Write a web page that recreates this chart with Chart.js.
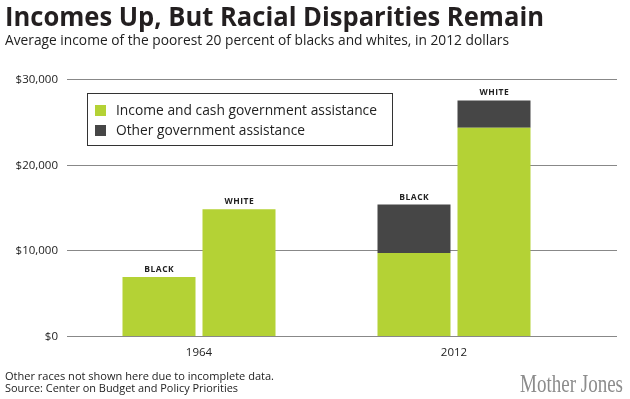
<!DOCTYPE html>
<html>
<head>
<meta charset="utf-8">
<script src="https://cdn.jsdelivr.net/npm/chart.js@4.4.1/dist/chart.umd.min.js"></script>
<style>
    html, body { margin: 0; padding: 0; background: #fff; }
    #wrap { position: relative; width: 630px; height: 399px; overflow: hidden; font-family: "Open Sans", sans-serif; color: #222; }
    #chart { position: absolute; left: 0; top: 0; }
    .txt { position: absolute; white-space: nowrap; transform-origin: 0 0; }
    .title { left: 5px; top: 2px; font-size: 27px; line-height: 27px; font-weight: bold; color: #231f20; }
    .subtitle { left: 5px; top: 31.7px; font-size: 15px; line-height: 15px; }
    .legend { position: absolute; left: 87px; top: 93px; width: 306px; height: 53px; border: 1px solid #333; box-sizing: border-box; }
    .legend .txt { left: 28px; font-size: 15px; line-height: 15px; }
    .legend .sw { position: absolute; left: 7px; width: 11px; height: 11px; }
    .note { left: 5px; font-size: 11.5px; line-height: 11.5px; }
    .brand { left: 520px; top: 371px; font-family: "Liberation Serif", serif; font-size: 25px; line-height: 25px; color: #8c8c8c; }
</style>
</head>
<body>
<div id="wrap">
    <canvas id="chart" width="630" height="399"></canvas>
    <div class="txt title" data-w="539">Incomes Up, But Racial Disparities Remain</div>
    <div class="txt subtitle" data-w="504">Average income of the poorest 20 percent of blacks and whites, in 2012 dollars</div>
    <div class="legend" id="legend"></div>
    <div class="txt note" style="top:369.8px" data-w="269">Other races not shown here due to incomplete data.</div>
    <div class="txt note" style="top:381.8px" data-w="233">Source: Center on Budget and Policy Priorities</div>
    <div class="txt brand" data-w="103">Mother Jones</div>
</div>
<script>
// Poorest-fifth income by race, 1964 vs 2012 (2012 dollars)
const YEARS = ['1964', '2012'];
const BLACK_CASH  = [6900, 9700];
const BLACK_OTHER = [0, 5650];
const WHITE_CASH  = [14800, 24300];
const WHITE_OTHER = [0, 3200];
const Y_TICKS = [0, 10000, 20000, 30000];

const GREEN = '#b4d235';
const DARK = '#464646';
const LEGEND = [
    { label: 'Income and cash government assistance', color: GREEN, w: 261 },
    { label: 'Other government assistance', color: DARK, w: 189 },
];

document.getElementById('legend').innerHTML = LEGEND.map((l, i) => `
    <span class="sw" style="top:${11 + i * 20}px;background:${l.color}"></span>
    <div class="txt" style="top:${7.7 + i * 20}px" data-w="${l.w}">${l.label}</div>`
).join('');

// squeeze each text block to the width it has in the original
function fitText() {
    document.querySelectorAll('[data-w]').forEach(el => {
        el.style.transform = 'none';
        const w = el.getBoundingClientRect().width;
        if (w) el.style.transform = `scaleX(${el.dataset.w / w})`;
    });
}
fitText();
if (document.fonts) document.fonts.ready.then(fitText);

const fmt = v => '$' + v.toLocaleString('en-US');

// gridlines, tick labels, year labels and race labels drawn off the scales
const decor = {
    id: 'decor',
    beforeDatasetsDraw(chart) {
        const { ctx, scales: { x, y } } = chart;
        ctx.save();
        ctx.lineWidth = 1;
        ctx.font = '11.5px "Open Sans", sans-serif';
        ctx.textAlign = 'right';
        ctx.textBaseline = 'middle';
        Y_TICKS.forEach(v => {
            const py = Math.round(y.getPixelForValue(v)) + 0.5;
            ctx.strokeStyle = '#888';
            ctx.beginPath();
            ctx.moveTo(67, py);
            ctx.lineTo(617, py);
            ctx.stroke();
            ctx.fillStyle = '#222';
            ctx.fillText(fmt(v), 58, py);
        });
        ctx.textAlign = 'center';
        YEARS.forEach((yr, i) => ctx.fillText(yr, x.getPixelForValue(i), 353));
        ctx.restore();
    },
    afterDatasetsDraw(chart) {
        const { ctx } = chart;
        ctx.save();
        ctx.font = 'bold 8.5px "Open Sans", sans-serif';
        ctx.letterSpacing = '0.5px';
        ctx.fillStyle = '#222';
        ctx.textAlign = 'center';
        ctx.textBaseline = 'alphabetic';
        // top segment of each stack carries the race label
        [[1, 'BLACK'], [3, 'WHITE']].forEach(([di, name]) => {
            const top = chart.getDatasetMeta(di).data;
            const base = chart.getDatasetMeta(di - 1).data;
            top.forEach((bar, i) => {
                const yTop = Math.min(bar.y, base[i].y);
                ctx.fillText(name, bar.x + 0.3, yTop - 5);
            });
        });
        ctx.restore();
    },
};

new Chart(document.getElementById('chart'), {
    type: 'bar',
    data: {
        labels: YEARS,
        datasets: [
            { label: 'Black cash', data: BLACK_CASH, backgroundColor: GREEN, stack: 'black' },
            { label: 'Black other', data: BLACK_OTHER, backgroundColor: DARK, stack: 'black' },
            { label: 'White cash', data: WHITE_CASH, backgroundColor: GREEN, stack: 'white' },
            { label: 'White other', data: WHITE_OTHER, backgroundColor: DARK, stack: 'white' },
        ],
    },
    options: {
        responsive: false,
        animation: false,
        events: [],
        categoryPercentage: 160 / 255,
        barPercentage: 73 / 80,
        layout: { padding: { left: 71.5, right: 48.5, top: 79, bottom: 63 } },
        plugins: { legend: { display: false }, tooltip: { enabled: false } },
        scales: {
            x: { stacked: true, display: false },
            y: { stacked: true, display: false, min: 0, max: 30000 },
        },
    },
    plugins: [decor],
});
</script>
</body>
</html>
